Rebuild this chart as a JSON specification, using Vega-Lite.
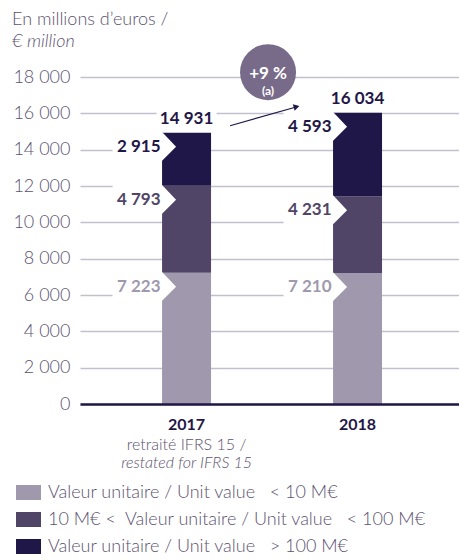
{
  "$schema": "https://vega.github.io/schema/vega-lite/v6.json",
  "width": 379,
  "height": 327,
  "autosize": {"type": "none"},
  "padding": {"left": 80, "top": 77, "right": 0, "bottom": 156},
  "background": "white",
  "title": {
    "text": "En millions d’euros /",
    "subtitle": "€ million",
    "anchor": "start",
    "frame": "group",
    "dx": -68,
    "offset": -7,
    "font": "Lato",
    "fontSize": 18,
    "fontWeight": 300,
    "color": "#5c5270",
    "subtitleFont": "Lato",
    "subtitleFontSize": 18,
    "subtitleFontStyle": "italic",
    "subtitleFontWeight": 300,
    "subtitleColor": "#5c5270",
    "subtitlePadding": 4
  },
  "datasets": {
    "d": [
      {"year": "2017", "tier": 1, "cat": "Valeur unitaire / Unit value  < 10 M€", "value": 7223},
      {"year": "2017", "tier": 2, "cat": "10 M€ <  Valeur unitaire / Unit value  < 100 M€", "value": 4793},
      {"year": "2017", "tier": 3, "cat": "Valeur unitaire / Unit value  > 100 M€", "value": 2915},
      {"year": "2018", "tier": 1, "cat": "Valeur unitaire / Unit value  < 10 M€", "value": 7210},
      {"year": "2018", "tier": 2, "cat": "10 M€ <  Valeur unitaire / Unit value  < 100 M€", "value": 4231},
      {"year": "2018", "tier": 3, "cat": "Valeur unitaire / Unit value  > 100 M€", "value": 4593}
    ]
  },
  "data": {"name": "d"},
  "transform": [
    {"stack": "value", "groupby": ["year"], "sort": [{"field": "tier", "order": "ascending"}], "as": ["v0", "v1"]}
  ],
  "encoding": {
    "x": {
      "field": "year",
      "type": "nominal",
      "scale": {"paddingInner": 0.7135, "paddingOuter": 0.465, "align": 0.516},
      "axis": {
        "title": null,
        "labelAngle": 0,
        "ticks": false,
        "domain": true,
        "domainColor": "#1f1747",
        "domainWidth": 2.5,
        "labelFont": "Lato",
        "labelFontSize": 16,
        "labelFontWeight": "bold",
        "labelColor": "#1f1747",
        "labelPadding": 12,
        "zindex": 1
      }
    }
  },
  "layer": [
    {
      "mark": {"type": "bar"},
      "encoding": {
        "y": {
          "field": "v0",
          "type": "quantitative",
          "title": null,
          "scale": {"domain": [0, 18000], "nice": false},
          "axis": {"values": [0, 2000, 4000, 6000, 8000, 10000, 12000, 14000, 16000, 18000], "tickCount": 20, "title": null}
        },
        "y2": {"field": "v1"},
        "color": {
          "field": "cat",
          "type": "nominal",
          "scale": {
            "domain": [
              "Valeur unitaire / Unit value  < 10 M€",
              "10 M€ <  Valeur unitaire / Unit value  < 100 M€",
              "Valeur unitaire / Unit value  > 100 M€"
            ],
            "range": ["#a099ae", "#504566", "#1f1747"]
          },
          "legend": {
            "orient": "none",
            "legendX": -64,
            "legendY": 403,
            "title": null,
            "labelExpr": "replace(replace(datum.label, 'value  ', 'value\u00a0\u00a0\u00a0'), '<  ', '<\u00a0\u00a0')",
            "symbolType": "M-1,-0.6H1V0.6H-1Z",
            "symbolSize": 625,
            "symbolStrokeWidth": 0,
            "labelFont": "Lato",
            "labelFontSize": 18,
            "labelFontWeight": 300,
            "labelColor": "#5c5270",
            "labelOffset": 7,
            "rowPadding": 5,
            "labelLimit": 500,
            "padding": 0
          }
        }
      }
    },
    {
      "mark": {
        "type": "point",
        "shape": "M-0.925,-0.01H-0.306L-0.131,0.175L-0.306,0.35H-0.925Z",
        "size": 25600,
        "filled": true,
        "fill": "white",
        "opacity": 1,
        "strokeWidth": 0
      },
      "encoding": {
        "y": {"field": "v1", "type": "quantitative", "title": null, "axis": {"values": [0, 2000, 4000, 6000, 8000, 10000, 12000, 14000, 16000, 18000], "tickCount": 20, "title": null}}
      }
    },
    {
      "mark": {
        "type": "text",
        "align": "right",
        "baseline": "middle",
        "xOffset": -26,
        "yOffset": 14,
        "font": "Lato",
        "fontSize": 17,
        "fontWeight": "bold"
      },
      "encoding": {
        "y": {"field": "v1", "type": "quantitative", "title": null, "axis": {"values": [0, 2000, 4000, 6000, 8000, 10000, 12000, 14000, 16000, 18000], "tickCount": 20, "title": null}},
        "text": {"field": "value", "type": "quantitative", "format": ",.0f"},
        "color": {"field": "cat", "type": "nominal"}
      }
    },
    {
      "transform": [{"aggregate": [{"op": "sum", "field": "value", "as": "total"}], "groupby": ["year"]}],
      "encoding": {"y": {"field": "total", "type": "quantitative", "title": null, "axis": {"values": [0, 2000, 4000, 6000, 8000, 10000, 12000, 14000, 16000, 18000], "tickCount": 20, "title": null}}},
      "layer": [
        {
          "mark": {
            "type": "point",
            "shape": "M-1,-0.36H1V0.36H-1Z",
            "size": 3600,
            "filled": true,
            "fill": "white",
            "opacity": 1,
            "strokeWidth": 0,
            "yOffset": -14
          }
        },
        {
          "mark": {
            "type": "text",
            "baseline": "middle",
            "yOffset": -14,
            "font": "Lato",
            "fontSize": 17,
            "fontWeight": "bold",
            "color": "#1f1747"
          },
          "encoding": {
            "text": {"field": "total", "type": "quantitative", "format": ",.0f"}
          }
        }
      ]
    },
    {
      "transform": [
        {"aggregate": [{"op": "sum", "field": "value", "as": "total"}], "groupby": ["year"]},
        {"pivot": "year", "value": "total"}
      ],
      "mark": {
        "type": "rule",
        "color": "#1f1747",
        "strokeWidth": 1.2,
        "xOffset": 43.5,
        "x2Offset": -60.5,
        "yOffset": -7,
        "y2Offset": -6
      },
      "encoding": {
        "x": {"datum": "2017"},
        "x2": {"datum": "2018"},
        "y": {"field": "2017", "type": "quantitative", "title": null, "axis": {"values": [0, 2000, 4000, 6000, 8000, 10000, 12000, 14000, 16000, 18000], "tickCount": 20, "title": null}},
        "y2": {"field": "2018"}
      }
    },
    {
      "transform": [
        {"aggregate": [{"op": "sum", "field": "value", "as": "total"}], "groupby": ["year"]},
        {"filter": "datum.year === '2018'"}
      ],
      "encoding": {"y": {"field": "total", "type": "quantitative", "title": null, "axis": {"values": [0, 2000, 4000, 6000, 8000, 10000, 12000, 14000, 16000, 18000], "tickCount": 20, "title": null}}},
      "layer": [
        {
          "mark": {
            "type": "point",
            "shape": "triangle-right",
            "size": 45,
            "filled": true,
            "color": "#1f1747",
            "opacity": 1,
            "angle": 344,
            "xOffset": -61,
            "yOffset": -6
          }
        },
        {
          "mark": {
            "type": "point",
            "shape": "circle",
            "size": 3136,
            "filled": true,
            "color": "#786b8a",
            "opacity": 1,
            "xOffset": -89.5,
            "yOffset": -40.5
          }
        },
        {
          "mark": {
            "type": "text",
            "text": "+9 %",
            "baseline": "middle",
            "xOffset": -89.5,
            "yOffset": -39,
            "font": "Lato",
            "fontSize": 17,
            "fontWeight": "bold",
            "color": "white"
          }
        },
        {
          "mark": {
            "type": "text",
            "text": "(a)",
            "baseline": "middle",
            "xOffset": -89.5,
            "yOffset": -21.5,
            "font": "Lato",
            "fontSize": 12,
            "fontWeight": "bold",
            "color": "white"
          }
        }
      ]
    },
    {
      "transform": [{"filter": "datum.year === '2017' && datum.tier === 1"}],
      "encoding": {"y": {"datum": 0, "type": "quantitative", "title": null, "axis": {"values": [0, 2000, 4000, 6000, 8000, 10000, 12000, 14000, 16000, 18000], "tickCount": 20, "title": null}}},
      "layer": [
        {
          "mark": {
            "type": "text",
            "text": "retraité IFRS 15 /",
            "baseline": "middle",
            "yOffset": 41,
            "font": "Lato",
            "fontSize": 16,
            "fontWeight": 300,
            "color": "#5c5270"
          }
        },
        {
          "mark": {
            "type": "text",
            "text": "restated for IFRS 15",
            "baseline": "middle",
            "yOffset": 59,
            "font": "Lato",
            "fontSize": 16,
            "fontWeight": 300,
            "fontStyle": "italic",
            "color": "#5c5270"
          }
        }
      ]
    }
  ],
  "config": {
    "view": {"stroke": null},
    "axisY": {
      "format": ",.0f",
      "labelOverlap": false,
      "grid": true,
      "gridColor": "#c3bfcd",
      "gridWidth": 1.3,
      "domain": false,
      "ticks": false,
      "labelPadding": 10,
      "labelFont": "Lato",
      "labelFontSize": 18,
      "labelFontWeight": 300,
      "labelColor": "#5c5270",
      "title": null
    },
    "locale": {"number": {"decimal": ",", "thousands": " ", "grouping": [3], "currency": ["", " €"]}}
  }
}
